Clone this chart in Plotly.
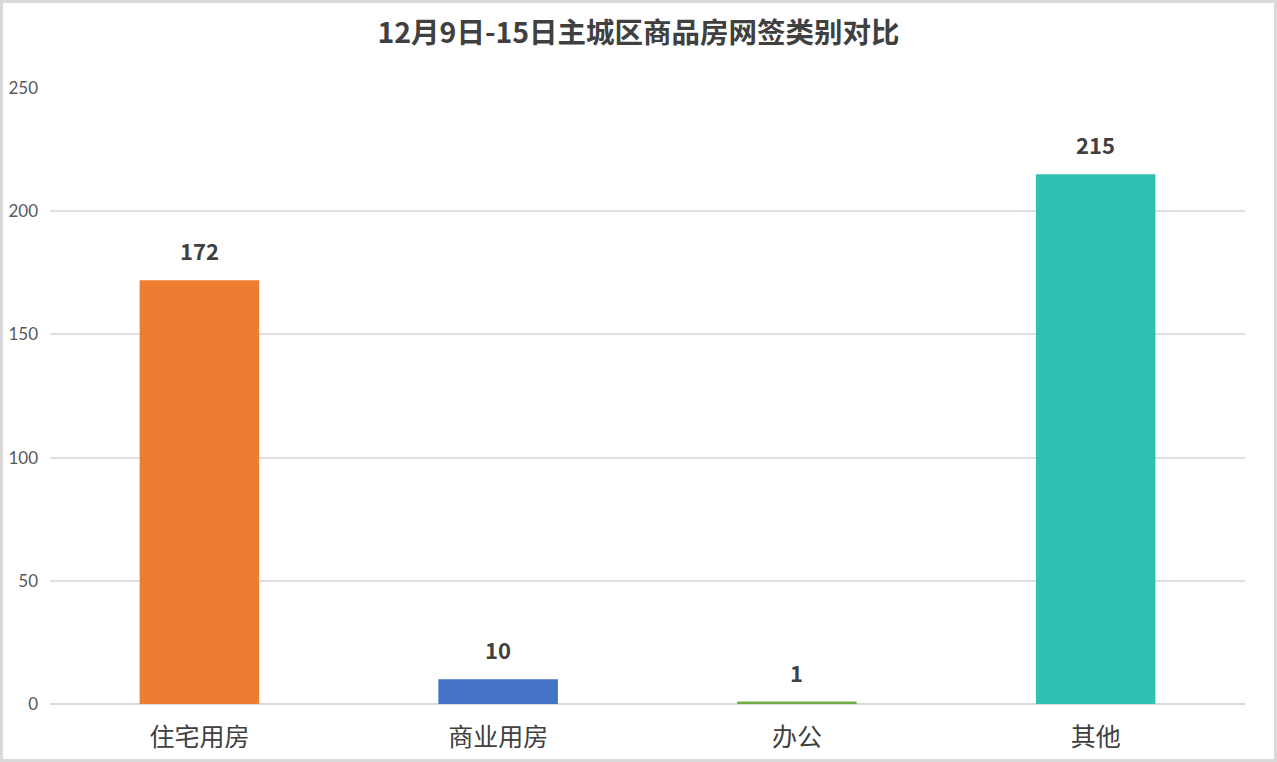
import plotly.graph_objects as go

categories = ["住宅用房", "商业用房", "办公", "其他"]
values = [172, 10, 1, 215]
colors = ["#ED7D31", "#4472C4", "#70AD47", "#31C0B4"]
y_ticks = [0, 50, 100, 150, 200, 250]

font_cjk = "Microsoft YaHei, Noto Sans CJK SC, sans-serif"

fig = go.Figure()
fig.add_trace(go.Bar(x=categories, y=values, marker_color=colors,
                     marker_line_width=0, showlegend=False))

# value labels above the bars
for c, v in zip(categories, values):
    fig.add_annotation(x=c, y=v, text="<b>%d</b>" % v, showarrow=False,
                       yanchor="bottom", yshift=12,
                       font=dict(family=font_cjk, size=22, color="#404040"))

# light frame round the whole picture
fig.add_shape(type="rect", xref="paper", yref="paper",
              x0=-0.0406, x1=1.0255, y0=-0.0917, y1=1.1404,
              line=dict(color="#d9d9d9", width=3))

fig.update_layout(
    width=1277, height=762,
    margin=dict(l=50, r=32, t=88, b=58, autoexpand=False),
    paper_bgcolor="white", plot_bgcolor="white",
    bargap=0.6,
    title=dict(text="<b>12月9日-15日主城区商品房网签类别对比</b>", x=0.5, y=0.957,
               xanchor="center", yanchor="middle",
               font=dict(family=font_cjk, size=28.5, color="#404040")),
    xaxis=dict(showgrid=False, showline=False, ticks="", ticklabelstandoff=16,
               automargin=False,
               tickfont=dict(family=font_cjk, size=25, color="#404040")),
    yaxis=dict(range=[0, 250], tickvals=y_ticks, showgrid=True, gridcolor="#e0e0e0",
               gridwidth=1.5, zeroline=True, zerolinecolor="#d9d9d9", zerolinewidth=2,
               ticks="", ticklabelstandoff=11, automargin=False,
               tickfont=dict(family="Lato, sans-serif", size=17, color="#595959")),
)

# drop the default body margin so the figure sits at the page corner
fig.write_html("out.html", config={"displayModeBar": False},
               post_script="document.body.style.margin='0';")
